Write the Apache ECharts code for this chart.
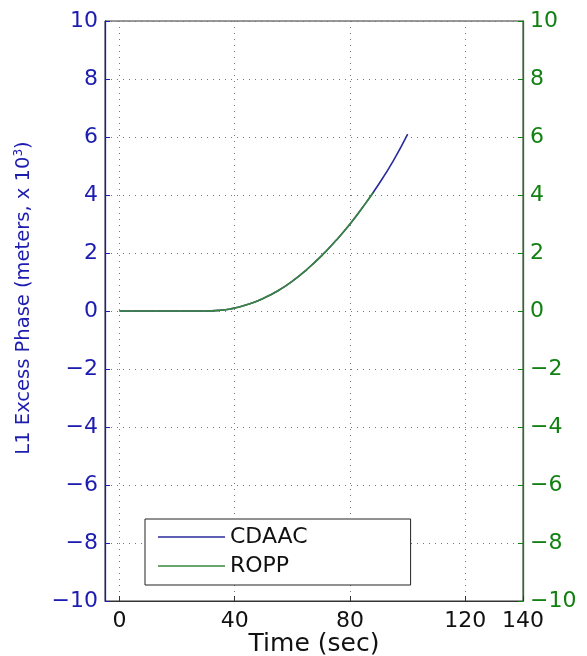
<!DOCTYPE html>
<html>
<head>
<meta charset="utf-8">
<script src="https://cdn.jsdelivr.net/npm/echarts@6/dist/echarts.min.js"></script>
<style>
html,body{margin:0;padding:0;background:#fff;}
#chart{width:587px;height:656px;}
</style>
</head>
<body>
<div id="chart"></div>
<script>
// Time (sec)
var cdaacTime = [0, 5, 10, 15, 20, 25, 30, 32, 35, 38, 40, 45, 50, 55, 60, 65, 70, 75, 80, 85, 90, 95, 100];
var cdaacPhase = [0, 0, 0, 0, 0, 0, 0, 0.004, 0.025, 0.06, 0.10, 0.24, 0.44, 0.70, 1.03, 1.43, 1.89, 2.42, 3.00, 3.66, 4.38, 5.18, 6.10];
var roppTime = [0, 5, 10, 15, 20, 25, 30, 32, 35, 38, 40, 45, 50, 55, 60, 65, 70, 75, 80, 85, 88];
var roppPhase = [0, 0, 0, 0, 0, 0, 0, 0.004, 0.025, 0.06, 0.10, 0.24, 0.44, 0.70, 1.03, 1.43, 1.89, 2.42, 3.00, 3.66, 4.08];
var xTicks = [0, 40, 80, 120, 140];
var yTicks = [-10, -8, -6, -4, -2, 0, 2, 4, 6, 8, 10];
var seriesNames = ['CDAAC', 'ROPP'];

function pairs(xs, ys) { return xs.map(function (x, i) { return [x, ys[i]]; }); }
function fmtNum(v) { return v < 0 ? '\u2212' + Math.abs(v) : String(v); }

var FONT = 'DejaVu Sans, Liberation Sans, Arial, sans-serif';
var BLUE = '#1c1cb0';
var GREEN = '#128012';
var LINE_BLUE = '#2a2a9e';
var LINE_GREEN = '#3a873a';
var GRID_LINE = {show: true, lineStyle: {color: '#777', type: [1, 5], width: 1}};

var chart = echarts.init(document.getElementById('chart'), null, {renderer: 'canvas'});
chart.setOption({
  animation: false,
  backgroundColor: '#fff',
  grid: {left: 105, right: 64, top: 21, bottom: 55, outerBoundsMode: 'none', containLabel: false,
    show: true, borderColor: '#333', borderWidth: 1, backgroundColor: 'transparent'},
  legend: {
    left: 145, top: 519, orient: 'vertical',
    data: seriesNames,
    icon: 'rect',
    itemWidth: 67, itemHeight: 1.5, itemGap: 7,
    padding: [7, 103, 8, 13],
    borderColor: '#222', borderWidth: 1, backgroundColor: '#fff',
    textStyle: {fontFamily: FONT, fontSize: 22, lineHeight: 22, color: '#111'}
  },
  xAxis: {
    type: 'value', min: -5, max: 140,
    name: 'Time (sec)', nameLocation: 'middle', nameGap: 31, nameMoveOverlap: false,
    nameTextStyle: {fontFamily: FONT, fontSize: 25, color: '#111'},
    axisLine: {show: true, onZero: false, lineStyle: {color: '#333', width: 1}},
    axisTick: {show: true, inside: true, length: 5, customValues: xTicks, lineStyle: {color: '#333'}},
    axisLabel: {customValues: xTicks, fontFamily: FONT, fontSize: 22, color: '#111', margin: 9, formatter: fmtNum},
    splitLine: GRID_LINE
  },
  yAxis: [{
    type: 'value', min: -10, max: 10, interval: 2, position: 'left',
    name: 'L1 Excess Phase (meters, x 10{sup|3})',
    nameLocation: 'middle', nameGap: 71, nameRotate: 90, nameMoveOverlap: false,
    nameTextStyle: {fontFamily: FONT, fontSize: 19.5, color: BLUE, padding: [0, 0, 0, 26],
      rich: {sup: {fontFamily: FONT, fontSize: 12, color: BLUE, padding: [0, 0, 9, 0]}}},
    axisLine: {show: true, onZero: false, lineStyle: {color: BLUE, width: 1.3}},
    axisTick: {show: true, inside: true, length: 5, lineStyle: {color: BLUE}},
    axisLabel: {fontFamily: FONT, fontSize: 22, color: BLUE, margin: 7, formatter: fmtNum, customValues: yTicks},
    splitLine: GRID_LINE
  }, {
    type: 'value', min: -10, max: 10, interval: 2, position: 'right',
    axisLine: {show: true, onZero: false, lineStyle: {color: GREEN, width: 1.3}},
    axisTick: {show: true, inside: true, length: 5, lineStyle: {color: GREEN}},
    axisLabel: {fontFamily: FONT, fontSize: 22, color: GREEN, margin: 7, formatter: fmtNum, customValues: yTicks},
    splitLine: {show: false}
  }],
  series: [{
    name: seriesNames[0], type: 'line', yAxisIndex: 0, symbol: 'none', smooth: true,
    data: pairs(cdaacTime, cdaacPhase),
    lineStyle: {color: LINE_BLUE, width: 1.6}, itemStyle: {color: LINE_BLUE}, z: 2
  }, {
    name: seriesNames[1], type: 'line', yAxisIndex: 1, symbol: 'none', smooth: true,
    data: pairs(roppTime, roppPhase),
    lineStyle: {color: LINE_GREEN, width: 1.6}, itemStyle: {color: LINE_GREEN}, z: 3
  }]
});
</script>
</body>
</html>
